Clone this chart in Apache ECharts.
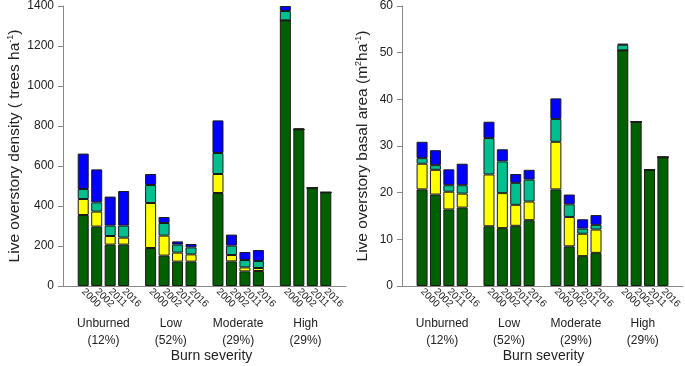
<!DOCTYPE html>
<html><head><meta charset="utf-8">
<script src="https://cdn.jsdelivr.net/npm/echarts@6/dist/echarts.min.js"></script>
<style>html,body{margin:0;padding:0;background:#fff}#c{width:685px;height:366px}</style>
</head><body><div id="c"></div>
<script>
const groups = ['Unburned', 'Low', 'Moderate', 'High'];
const shares = ['(12%)', '(52%)', '(29%)', '(29%)'];
const years = ['2000', '2002', '2011', '2016'];
const densityTicks = [0, 200, 400, 600, 800, 1000, 1200, 1400];
const basalTicks = [0, 10, 20, 30, 40, 50, 60];

// Order: Unburned 2000..2016, Low 2000..2016, Moderate 2000..2016, High 2000..2016
const densityGreen  = [355, 297, 207, 207, 190, 152, 122, 122, 465, 123, 73, 75, 1328, 783, 490, 468];
const densityYellow = [80, 75, 43, 35, 225, 100, 45, 36, 95, 32, 20, 15, 0, 0, 0, 0];
const densityTeal   = [50, 46, 52, 60, 90, 63, 40, 35, 105, 47, 37, 35, 47, 0, 0, 0];
const densityBlue   = [177, 165, 145, 173, 55, 30, 16, 17, 163, 55, 40, 55, 25, 5, 0, 0];

const basalGreen  = [20.7, 19.6, 16.4, 16.8, 12.8, 12.4, 12.9, 14.1, 20.7, 8.5, 6.4, 7.1, 50.5, 35.2, 24.9, 27.6];
const basalYellow = [5.5, 5.3, 3.8, 3.0, 11.1, 7.5, 4.5, 4.0, 10.2, 6.3, 4.8, 5.0, 0, 0, 0, 0];
const basalTeal   = [1.2, 1.0, 1.4, 1.8, 7.8, 6.8, 4.7, 4.7, 4.9, 2.7, 1.1, 1.0, 1.2, 0, 0, 0];
const basalBlue   = [3.5, 3.2, 3.4, 4.6, 3.5, 2.6, 1.9, 2.1, 4.4, 2.1, 2.0, 2.1, 0.2, 0, 0, 0];

const layerColors = ['#006000', '#ffff00', '#00bf8f', '#0000ff'];
const FONT = 'Liberation Sans, Arial, Helvetica, sans-serif';

// Build slots: gap, 4 years, gap, 4 years, ... gap
const slots = [];
const slotIndex = [];
slots.push('gap0');
groups.forEach((g, gi) => {
  slotIndex.push([]);
  years.forEach(y => { slotIndex[gi].push(slots.length); slots.push(g + '|' + y); });
  slots.push('gap' + (gi + 1));
});
function pad(arr) {
  const out = slots.map(() => '-');
  groups.forEach((g, gi) => years.forEach((y, yi) => { out[slotIndex[gi][yi]] = arr[gi * 4 + yi]; }));
  return out;
}

const grids = [
  {left: 63, top: 6, width: 283, height: 280},
  {left: 402, top: 6, width: 281, height: 280}
];
function xAxis(i) {
  return {
    type: 'category', gridIndex: i, data: slots,
    axisLine: {lineStyle: {color: '#888', width: 1}},
    axisTick: {show: false},
    axisLabel: {interval: 0, rotate: -45, fontSize: 10, color: '#222', fontFamily: FONT, margin: 4,
      formatter: v => v.indexOf('|') >= 0 ? v.split('|')[1] : ''}
  };
}
function yAxis(i, ticks, name, gap) {
  return {
    type: 'value', gridIndex: i, min: ticks[0], max: ticks[ticks.length - 1], interval: ticks[1] - ticks[0],
    splitLine: {show: false},
    axisLine: {show: true, lineStyle: {color: '#888', width: 1}},
    axisTick: {show: true, length: 5, lineStyle: {color: '#888'}},
    axisLabel: {fontSize: 12, color: '#222', fontFamily: FONT, margin: 9, formatter: v => String(v)},
    name: name, nameLocation: 'middle', nameGap: gap,
    nameTextStyle: {fontSize: 15.5, color: '#222', fontFamily: FONT,
      rich: {a: {fontSize: 15.5, fontFamily: FONT, color: '#222'},
             s: {fontSize: 9, fontFamily: FONT, color: '#222', verticalAlign: 'top', padding: [0, 0, 8, 0]}}}
  };
}
function layerSeries(i, arrs) {
  return arrs.map((arr, li) => ({
    type: 'bar', xAxisIndex: i, yAxisIndex: i, stack: 'p' + i, barWidth: 11,
    data: pad(arr),
    itemStyle: {color: layerColors[li], borderColor: '#1a1a1a', borderWidth: 1},
    emphasis: {disabled: true}, animation: false
  }));
}

const chart = echarts.init(document.getElementById('c'), null, {renderer: 'canvas'});
chart.setOption({
  animation: false,
  grid: grids,
  xAxis: [xAxis(0), xAxis(1)],
  yAxis: [
    yAxis(0, densityTicks, '{a|Live overstory density ( trees ha}{s|-1}{a|)}', 40),
    yAxis(1, basalTicks, '{a|Live overstory basal area (m}{s|2}{a|ha}{s|-1}{a|)}', 31)
  ],
  series: [
    ...layerSeries(0, [densityGreen, densityYellow, densityTeal, densityBlue]),
    ...layerSeries(1, [basalGreen, basalYellow, basalTeal, basalBlue])
  ]
});

const graphics = [];
[0, 1].forEach(p => {
  groups.forEach((g, gi) => {
    const x1 = chart.convertToPixel({xAxisIndex: p}, slots[slotIndex[gi][1]]);
    const x2 = chart.convertToPixel({xAxisIndex: p}, slots[slotIndex[gi][2]]);
    graphics.push({type: 'text', x: (x1 + x2) / 2, y: 315,
      style: {text: g + '\n' + shares[gi], align: 'center', verticalAlign: 'top', lineHeight: 17,
        fontSize: 12, fontFamily: FONT, fill: '#222'}});
  });
  const gx = grids[p].left + grids[p].width / 2 + (p === 0 ? 7 : 1);
  graphics.push({type: 'text', x: gx, y: 356,
    style: {text: 'Burn severity', align: 'center', verticalAlign: 'middle', fontSize: 14, fontFamily: FONT, fill: '#222'}});
});
chart.setOption({graphic: graphics});
</script>
</body></html>
